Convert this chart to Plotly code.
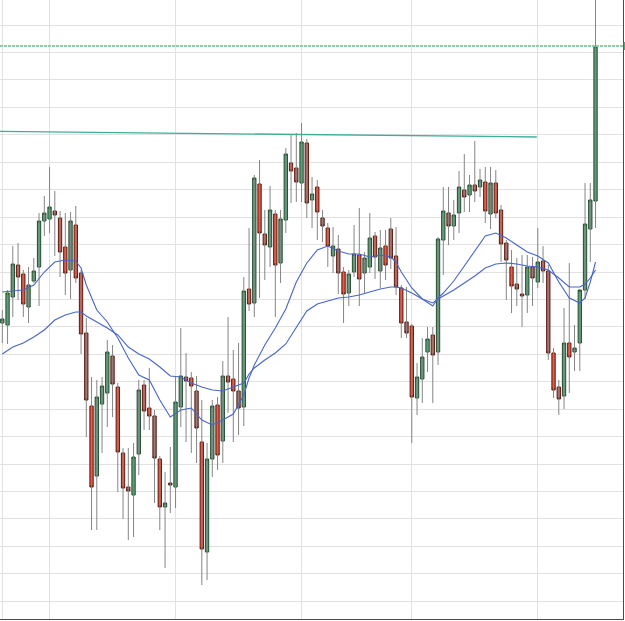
import plotly.graph_objects as go

# ---- data (arbitrary price units) ----
opens = [29.7, 29.5, 32.3, 35.5, 34.6, 31.3, 33.9, 35.3, 39.9, 40.1,
         40.9, 40.2, 37.3, 35.0, 39.5, 34.7, 28.7, 21.4, 14.4, 21.6,
         22.7, 26.4, 23.3, 16.7, 13.3, 12.5, 16.6, 23.5, 21.2, 20.4,
         16.1, 11.3, 13.7, 13.3, 21.3, 24.3, 24.2, 22.9, 17.8, 6.8,
         16.1, 21.5, 17.9, 24.4, 24.1, 22.9, 21.3, 33.1, 31.7, 43.6,
         38.6, 37.3, 40.6, 35.7, 40.0, 45.7, 45.2, 43.7, 47.7, 42.0,
         43.3, 40.2, 39.2, 36.4, 37.1, 34.8, 32.7, 34.8, 36.5, 34.7,
         35.3, 38.4, 34.9, 37.4, 39.1, 36.4, 33.2, 29.8, 29.4, 22.2,
         24.1, 26.8, 28.5, 26.8, 38.0, 40.7, 39.4, 40.7, 43.0, 42.5,
         43.5, 43.3, 43.8, 40.6, 43.7, 41.0, 37.7, 35.3, 33.6, 32.6,
         32.5, 35.3, 33.8, 35.9, 34.9, 26.7, 23.3, 22.4, 27.7, 26.8,
         27.7, 33.0, 39.1, 41.9]
highs = [31.0, 33.0, 37.4, 37.7, 35.0, 35.3, 36.2, 40.7, 42.4, 45.3,
         42.9, 40.9, 40.7, 40.8, 41.4, 35.0, 30.2, 24.3, 24.0, 24.3,
         28.0, 27.5, 23.7, 17.2, 17.2, 17.7, 24.0, 24.0, 25.2, 21.0,
         16.4, 14.8, 17.3, 24.3, 29.2, 26.7, 24.8, 24.4, 22.0, 17.7,
         22.0, 22.3, 25.9, 30.3, 27.0, 27.7, 34.3, 39.2, 44.5, 46.0,
         41.0, 43.4, 41.0, 41.0, 47.2, 48.5, 48.7, 49.7, 48.1, 44.3,
         44.0, 41.0, 39.7, 39.3, 38.5, 35.3, 35.0, 39.5, 41.2, 36.8,
         40.7, 38.8, 39.0, 39.0, 40.2, 39.3, 33.5, 33.3, 29.6, 25.7,
         28.2, 29.3, 29.3, 38.3, 43.3, 43.3, 42.0, 44.9, 46.6, 44.5,
         47.9, 45.1, 45.3, 45.3, 45.0, 41.5, 38.0, 37.0, 36.2, 36.5,
         36.5, 36.3, 39.2, 37.4, 35.5, 27.2, 24.0, 31.2, 35.7, 29.5,
         31.3, 43.7, 43.7, 62.5]
lows = [27.7, 27.6, 30.3, 32.0, 30.3, 29.7, 33.7, 31.4, 38.4, 38.7,
        36.4, 34.3, 32.5, 32.1, 33.7, 26.6, 18.3, 9.0, 9.0, 16.7,
        19.3, 20.3, 12.8, 10.1, 8.0, 8.3, 14.5, 19.0, 19.0, 11.7,
        9.0, 5.2, 10.7, 11.2, 19.3, 17.8, 16.7, 15.7, 3.5, 4.0,
        14.3, 15.0, 15.7, 20.7, 17.8, 18.5, 19.4, 30.9, 30.3, 32.2,
        34.0, 35.3, 30.3, 33.7, 38.7, 41.7, 41.8, 41.8, 40.2, 39.2,
        38.0, 37.8, 35.3, 34.7, 32.6, 29.7, 31.4, 34.3, 31.4, 32.7,
        34.7, 34.1, 33.2, 34.0, 35.1, 32.5, 28.2, 28.2, 17.7, 20.5,
        21.7, 24.8, 21.7, 25.5, 34.5, 37.5, 38.0, 38.7, 40.8, 40.8,
        41.8, 42.3, 39.7, 39.1, 40.2, 35.8, 32.0, 30.7, 31.4, 29.3,
        30.7, 31.4, 33.2, 33.7, 26.0, 22.2, 20.5, 21.1, 22.7, 24.9,
        24.9, 32.1, 35.8, 39.2]
closes = [30.1, 32.7, 35.6, 34.3, 31.6, 33.5, 34.9, 39.9, 40.7, 41.3,
          40.5, 36.8, 34.7, 39.9, 34.2, 28.6, 22.0, 13.3, 22.3, 23.4,
          26.8, 23.6, 16.8, 13.2, 12.9, 16.3, 23.0, 20.9, 20.4, 16.2,
          11.3, 11.7, 13.5, 21.8, 24.4, 23.9, 23.4, 19.2, 7.1, 16.1,
          21.4, 16.5, 24.4, 23.8, 22.9, 21.2, 32.9, 31.6, 44.2, 38.7,
          37.5, 41.0, 35.5, 40.1, 46.6, 44.9, 43.8, 47.8, 41.7, 42.6,
          40.8, 39.4, 37.4, 37.4, 34.7, 32.6, 34.6, 36.6, 34.1, 36.2,
          38.2, 36.3, 37.2, 35.5, 36.2, 33.3, 29.7, 28.7, 22.3, 24.3,
          26.3, 28.1, 26.5, 38.1, 40.9, 39.4, 40.5, 43.3, 42.3, 43.5,
          42.9, 44.0, 40.9, 43.7, 40.7, 37.6, 36.0, 33.4, 33.1, 32.4,
          35.3, 34.2, 35.8, 34.9, 26.7, 23.0, 22.1, 27.7, 26.3, 27.2,
          33.0, 39.6, 42.0, 57.4]
idx = list(range(len(opens)))

ma_idx = [0, 2, 4, 6, 8, 10, 12, 14, 15, 16, 18, 20, 22, 24, 26, 28, 30, 32,
          34, 36, 38, 40, 42, 44, 46, 47, 48, 50, 52, 54, 56, 58, 60, 62, 64,
          66, 68, 70, 72, 74, 75, 76, 78, 80, 82, 83, 84, 86, 88, 90, 92, 94,
          96, 98, 100, 102, 104, 106, 108, 110, 111, 112, 113]
ma_fast = [32.8, 32.9, 33.0, 33.5, 34.8, 35.8, 36.0, 35.9, 35.2, 33.5, 31.0,
           29.8, 28.2, 26.2, 24.5, 24.0, 22.0, 20.3, 21.0, 21.2, 20.0, 19.5,
           20.0, 20.6, 22.5, 24.2, 25.5, 27.5, 29.2, 31.1, 33.8, 35.7, 37.0,
           37.4, 36.9, 36.6, 36.6, 36.3, 36.5, 36.3, 35.8, 34.8, 33.2, 32.1,
           31.4, 32.2, 32.7, 33.9, 35.4, 37.0, 38.4, 38.7, 38.2, 37.5, 36.8,
           36.4, 35.7, 33.8, 32.2, 31.7, 32.2, 33.8, 35.8]
ma_slow = [26.6, 27.3, 27.7, 28.3, 29.0, 30.0, 30.5, 30.8, 30.8, 30.4, 29.8,
           29.2, 28.5, 27.3, 26.6, 26.1, 25.3, 24.4, 24.3, 23.7, 23.3, 23.0,
           22.9, 23.3, 23.7, 24.6, 25.2, 26.0, 26.7, 27.6, 29.2, 30.9, 31.6,
           31.9, 32.2, 32.3, 32.5, 32.8, 33.1, 33.3, 33.3, 33.2, 32.7, 32.1,
           31.7, 32.1, 32.4, 33.0, 33.7, 34.4, 35.2, 35.6, 35.7, 35.6, 35.4,
           35.3, 35.0, 34.2, 33.3, 33.3, 33.6, 34.2, 35.0]

trend_idx = [-1.0, 101.8]
trend_val = [48.87, 48.30]

grid_idx = [0, 9, 33, 57, 78, 102]

# ---- figure ----
fig = go.Figure()

# wicks (grey), drawn behind the bodies
wx, wy = [], []
for i, h, l in zip(idx, highs, lows):
    wx += [i, i, None]
    wy += [h, l, None]
fig.add_trace(go.Scatter(x=wx, y=wy, mode="lines",
                         line=dict(color="#858585", width=1),
                         hoverinfo="skip", showlegend=False))

# bodies only
body_hi = [max(o, c) for o, c in zip(opens, closes)]
body_lo = [min(o, c) for o, c in zip(opens, closes)]
fig.add_trace(go.Candlestick(
    x=idx, open=opens, high=body_hi, low=body_lo, close=closes,
    increasing=dict(fillcolor="#5f9f79", line=dict(color="#1e4f2e", width=1)),
    decreasing=dict(fillcolor="#e0513b", line=dict(color="#5c1a10", width=1)),
    whiskerwidth=0, showlegend=False, hoverinfo="skip"))

fig.add_trace(go.Scatter(x=ma_idx, y=ma_slow, mode="lines",
                         line=dict(color="#4766c8", width=1.1),
                         hoverinfo="skip", showlegend=False))
fig.add_trace(go.Scatter(x=ma_idx, y=ma_fast, mode="lines",
                         line=dict(color="#4766c8", width=1.1),
                         hoverinfo="skip", showlegend=False))

fig.add_trace(go.Scatter(x=trend_idx, y=trend_val, mode="lines",
                         line=dict(color="#3fae96", width=1.3),
                         hoverinfo="skip", showlegend=False))

last_close = closes[-1]
fig.add_shape(type="line", xref="paper", yref="y", x0=0, x1=1.01,
              y0=last_close, y1=last_close,
              line=dict(color="#93c9a7", width=2, dash="3px,1px"))
fig.add_shape(type="rect", xref="paper", yref="y", x0=1.001, x1=1.01,
              y0=last_close - 0.4, y1=last_close + 0.4,
              line=dict(width=0), fillcolor="#5f9f79")

fig.update_layout(
    width=625, height=621,
    margin=dict(l=0, r=2, t=0, b=2),
    paper_bgcolor="white", plot_bgcolor="white",
    showlegend=False, boxgap=0.1,
    xaxis=dict(range=[-0.438, 118.23], tickmode="array", tickvals=grid_idx,
               showticklabels=False, ticks="", showgrid=True,
               gridcolor="#e2e2e2", gridwidth=1, zeroline=False,
               showline=True, linecolor="#4a4a4a", linewidth=1,
               rangeslider=dict(visible=False), fixedrange=True),
    yaxis=dict(range=[0.1, 62.0], tick0=1.87, dtick=2.744,
               showticklabels=False, ticks="", showgrid=True,
               gridcolor="#e2e2e2", gridwidth=1, zeroline=False,
               side="right", showline=True, linecolor="#4a4a4a",
               linewidth=1, fixedrange=True),
)

fig.write_html("out.html")
